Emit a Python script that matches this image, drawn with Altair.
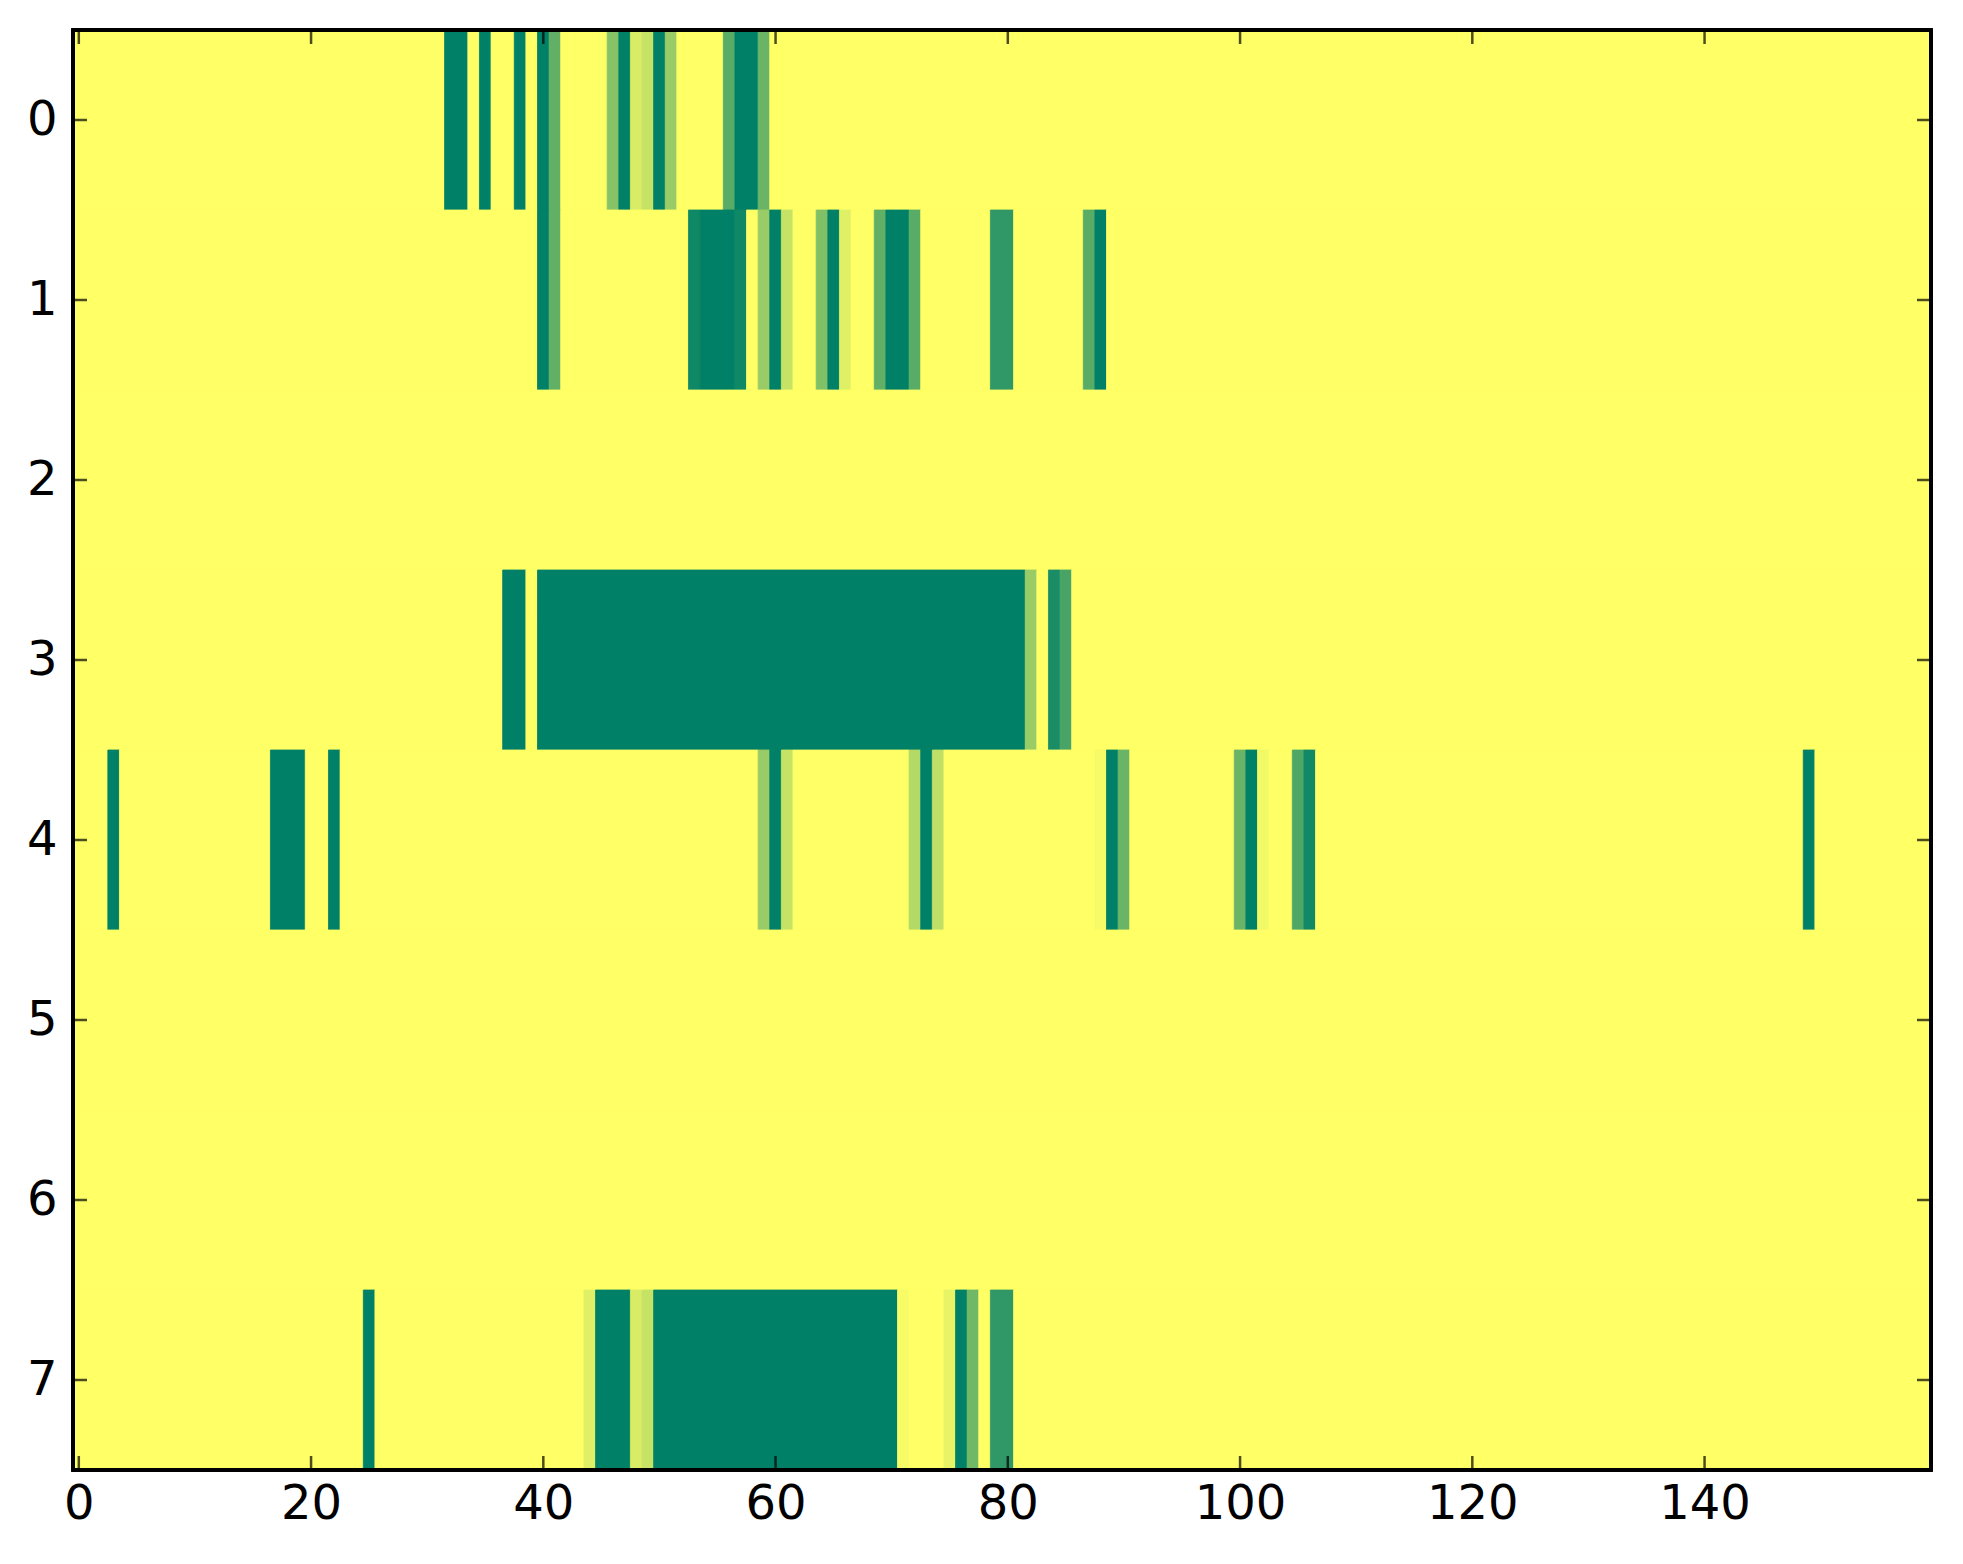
import altair as alt
import pandas as pd

# ---- data: (first column, last column, value) runs per row ----
N_COLS = 160
N_ROWS = 8

row0 = [(32, 33, 1.0), (35, 35, 1.0), (38, 38, 1.0), (40, 40, 1.0), (41, 41, 0.62),
        (46, 46, 0.47), (47, 47, 1.0), (48, 48, 0.15), (49, 49, 0.22), (50, 50, 1.0),
        (51, 51, 0.40), (56, 56, 0.65), (57, 58, 1.0), (59, 59, 0.59)]
row1 = [(40, 40, 1.0), (41, 41, 0.62), (53, 53, 0.94), (54, 56, 1.0), (57, 57, 0.94),
        (59, 59, 0.40), (60, 60, 1.0), (61, 61, 0.22), (64, 64, 0.50), (65, 65, 1.0),
        (66, 66, 0.12), (69, 69, 0.62), (70, 71, 1.0), (72, 72, 0.65), (79, 80, 0.81),
        (87, 87, 0.65), (88, 88, 1.0)]
row2 = []
row3 = [(37, 38, 1.0), (40, 81, 1.0), (82, 82, 0.40), (84, 84, 0.90), (85, 85, 0.72)]
row4 = [(3, 3, 1.0), (17, 19, 1.0), (22, 22, 1.0), (59, 59, 0.40), (60, 60, 1.0),
        (61, 61, 0.22), (72, 72, 0.30), (73, 73, 1.0), (74, 74, 0.25), (88, 88, 0.03),
        (89, 89, 1.0), (90, 90, 0.59), (100, 100, 0.59), (101, 101, 1.0), (102, 102, 0.05),
        (105, 105, 0.69), (106, 106, 0.93), (149, 149, 1.0)]
row5 = []
row6 = []
row7 = [(25, 25, 1.0), (44, 44, 0.12), (45, 47, 1.0), (48, 48, 0.15), (49, 49, 0.22),
        (50, 70, 1.0), (71, 71, 0.03), (75, 75, 0.09), (76, 76, 1.0), (77, 77, 0.56),
        (79, 80, 0.81)]

rows = [row0, row1, row2, row3, row4, row5, row6, row7]

x_ticks = [0, 20, 40, 60, 80, 100, 120, 140]
y_ticks = [0, 1, 2, 3, 4, 5, 6, 7]

# ---- build a table of runs (zero-valued gaps included) ----
recs = []
for r, runs in enumerate(rows):
    pos = 0
    for (a, b, v) in sorted(runs):
        if a > pos:
            recs.append({"row": r, "x0": pos - 0.5, "x1": a - 0.5, "v": 0.0})
        recs.append({"row": r, "x0": a - 0.5, "x1": b + 0.5, "v": v})
        pos = b + 1
    if pos < N_COLS:
        recs.append({"row": r, "x0": pos - 0.5, "x1": N_COLS - 0.5, "v": 0.0})
df = pd.DataFrame(recs)
df["y0"] = df["row"] - 0.5
df["y1"] = df["row"] + 0.5

W, H = 1858, 1440
FONT = "DejaVu Sans"

xscale = alt.Scale(domain=[-0.5, N_COLS - 0.5], nice=False, zero=False)
yscale = alt.Scale(domain=[N_ROWS - 0.5, -0.5], nice=False, zero=False)
cscale = alt.Scale(domain=[0, 1], range=["#ffff66", "#008066"], interpolate="rgb")

xaxis = alt.Axis(values=x_ticks, ticks=False, domain=False, grid=False, labelFontSize=48,
                 labelFont=FONT, labelColor="black", labelPadding=10, title=None,
                 labelFlush=False, labelOverlap=False)
yaxis = alt.Axis(values=y_ticks, ticks=False, domain=False, grid=False, labelFontSize=48,
                 labelFont=FONT, labelColor="black", labelPadding=16, title=None,
                 minExtent=50, maxExtent=50, labelOverlap=False)

heat = alt.Chart(df).mark_rect(strokeWidth=0.8).encode(
    x=alt.X("x0:Q", scale=xscale, axis=xaxis, title=None),
    x2="x1:Q",
    y=alt.Y("y0:Q", scale=yscale, axis=yaxis, title=None),
    y2="y1:Q",
    color=alt.Color("v:Q", scale=cscale, legend=None),
    stroke=alt.Stroke("v:Q", scale=cscale, legend=None),
)

xt = pd.DataFrame({"t": x_ticks})
yt = pd.DataFrame({"t": y_ticks})
TL = 14
TW = 2.5

xt_bottom = alt.Chart(xt).mark_tick(orient="vertical", size=TL, thickness=TW, color="black").encode(
    x=alt.X("t:Q", scale=xscale, axis=xaxis, title=None), y=alt.value(H - TL / 2))
xt_top = alt.Chart(xt).mark_tick(orient="vertical", size=TL, thickness=TW, color="black").encode(
    x=alt.X("t:Q", scale=xscale, axis=xaxis, title=None), y=alt.value(TL / 2))
yt_left = alt.Chart(yt).mark_tick(orient="horizontal", size=TL, thickness=TW, color="black").encode(
    y=alt.Y("t:Q", scale=yscale, axis=yaxis, title=None), x=alt.value(TL / 2))
yt_right = alt.Chart(yt).mark_tick(orient="horizontal", size=TL, thickness=TW, color="black").encode(
    y=alt.Y("t:Q", scale=yscale, axis=yaxis, title=None), x=alt.value(W - TL / 2))

frame = alt.Chart(xt).mark_rect(filled=False, stroke="black", strokeWidth=3).encode(
    x=alt.value(0), x2=alt.value(W), y=alt.value(0), y2=alt.value(H))

chart = alt.layer(heat, xt_bottom, xt_top, yt_left, yt_right, frame).properties(
    width=W, height=H,
    padding={"left": 15, "top": 20, "right": 5, "bottom": 5},
    background="white",
).configure_view(stroke=None)

chart.save("out.html", embed_options={"renderer": "svg", "actions": False})
